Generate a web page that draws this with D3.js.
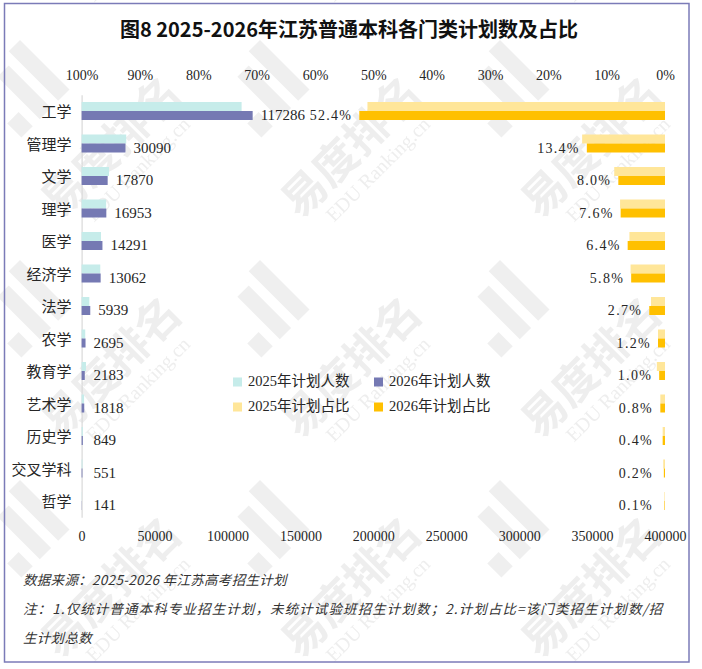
<!DOCTYPE html>
<html>
<head>
<meta charset="utf-8">
<script src="https://cdn.jsdelivr.net/npm/d3@7"></script>
<style>
  html, body { margin: 0; padding: 0; background: #fff; }
  svg text { font-family: "Liberation Serif", "Noto Sans CJK SC", serif; fill: #262626; }
  .cjk { font-family: "Noto Sans CJK SC", sans-serif; }
</style>
</head>
<body>
<div id="chart"></div>
<script>
// 各门类
const categories = ["工学", "管理学", "文学", "理学", "医学", "经济学", "法学", "农学", "教育学", "艺术学", "历史学", "交叉学科", "哲学"];
// 计划人数
const plan2025 = [109700, 30600, 18800, 16800, 13300, 12800, 5300, 2500, 3000, 1700, 850, 600, 150];
const plan2026 = [117286, 30090, 17870, 16953, 14291, 13062, 5939, 2695, 2183, 1818, 849, 551, 141];
// 计划占比 (%)
const share2025 = [51.0, 14.2, 8.7, 7.7, 6.1, 5.9, 2.4, 1.2, 1.4, 0.8, 0.4, 0.3, 0.1];
const share2026 = [52.4, 13.4, 8.0, 7.6, 6.4, 5.8, 2.7, 1.2, 1.0, 0.8, 0.4, 0.2, 0.1];
// 刻度
const countTicks = [0, 50000, 100000, 150000, 200000, 250000, 300000, 350000, 400000];
const shareTicks = [100, 90, 80, 70, 60, 50, 40, 30, 20, 10, 0];
const legendItems = ["2025年计划人数", "2026年计划人数", "2025年计划占比", "2026年计划占比"];

const W = 702, H = 669;
const colors = { c25: "#c6ecea", c26: "#7579b3", s25: "#ffe699", s26: "#ffc000" };

const svg = d3.select("#chart")
    .append("svg")
    .attr("width", W)
    .attr("height", H);

// 水印
const defs = svg.append("defs");
const pat = defs.append("pattern")
    .attr("id", "wm")
    .attr("patternUnits", "userSpaceOnUse")
    .attr("width", 240)
    .attr("height", 220)
    .attr("patternTransform", "translate(-10,20)");
const logo = pat.append("g").attr("transform", "translate(30,20) rotate(45)");
logo.append("rect").attr("x", 0).attr("y", 0).attr("width", 70).attr("height", 16).attr("fill", "#efefef");
logo.append("rect").attr("x", 10).attr("y", 26).attr("width", 60).attr("height", 16).attr("fill", "#efefef");
logo.append("rect").attr("x", 50).attr("y", 52).attr("width", 20).attr("height", 16).attr("fill", "#efefef");
const wg = pat.append("g").attr("transform", "translate(70,200) rotate(-45)");
wg.append("text").attr("class", "cjk")
    .attr("x", 0).attr("y", 0)
    .attr("font-size", 44).attr("font-weight", "bold")
    .style("fill", "#eeeeee")
    .text("易度排名");
wg.append("text")
    .attr("x", 22).attr("y", 26)
    .attr("font-size", 20)
    .style("fill", "#eeeeee")
    .text("EDU Ranking.cn");
svg.append("rect").attr("width", W).attr("height", H).attr("fill", "url(#wm)");

// 外框
svg.append("rect")
    .attr("x", 4.5).attr("y", 3.5)
    .attr("width", 684.5).attr("height", 658.5)
    .attr("fill", "none")
    .attr("stroke", "#7b7bb8")
    .attr("stroke-width", 1.5);

// 标题
svg.append("text").attr("class", "cjk")
    .attr("x", 349).attr("y", 37)
    .attr("text-anchor", "middle")
    .attr("font-size", 20)
    .attr("font-weight", "bold")
    .style("fill", "#111")
    .text("图8  2025-2026年江苏普通本科各门类计划数及占比");

const x0 = 81.6, x1 = 665;
const xCount = d3.scaleLinear().domain([0, 400000]).range([x0, x1]);
const xShare = d3.scaleLinear().domain([0, 100]).range([x1, x0]);
const y = d3.scaleBand().domain(categories).range([94.75, 517.25]).padding(0);
const sub = d3.scaleBand().domain(["a", "b"]).range([0, 18]).padding(0);
const rowTop = c => y(c) + y.bandwidth() / 2 - 9;

const rows = categories.map((c, i) => ({
    cat: c, p25: plan2025[i], p26: plan2026[i], s25: share2025[i], s26: share2026[i]
}));

// 顶部百分比轴
const topAxis = svg.append("g")
    .attr("transform", "translate(0,80)")
    .call(d3.axisTop(xShare).tickValues(shareTicks).tickFormat(d => d + "%").tickSize(0).tickPadding(0));
topAxis.select(".domain").remove();
topAxis.selectAll("text")
    .attr("font-family", "Liberation Serif")
    .attr("font-size", 14)
    .style("fill", "#262626");

// 底部人数轴
const bottomAxis = svg.append("g")
    .attr("transform", "translate(0,531)")
    .call(d3.axisBottom(xCount).tickValues(countTicks).tickFormat(d3.format("d")).tickSize(0).tickPadding(0));
bottomAxis.select(".domain").remove();
bottomAxis.selectAll("text")
    .attr("font-family", "Liberation Serif")
    .attr("font-size", 14)
    .style("fill", "#262626");

// 类别轴
const leftAxis = svg.append("g")
    .attr("transform", `translate(${x0},0)`)
    .call(d3.axisLeft(y).tickSize(0).tickPadding(10));
leftAxis.select(".domain").attr("stroke", "#d9d9d9").attr("stroke-width", 1.2);
leftAxis.selectAll("text")
    .attr("class", "cjk")
    .attr("font-size", 15)
    .attr("dy", "0.4em")
    .style("fill", "#262626");

// 人数条形
const gCount = svg.append("g");
gCount.selectAll("rect.c25").data(rows).enter().append("rect")
    .attr("x", x0)
    .attr("y", d => rowTop(d.cat) + sub("a"))
    .attr("width", d => xCount(d.p25) - x0)
    .attr("height", sub.bandwidth())
    .attr("fill", colors.c25);
gCount.selectAll("rect.c26").data(rows).enter().append("rect")
    .attr("x", x0)
    .attr("y", d => rowTop(d.cat) + sub("b"))
    .attr("width", d => xCount(d.p26) - x0)
    .attr("height", sub.bandwidth())
    .attr("fill", colors.c26);

// 占比条形
const gShare = svg.append("g");
gShare.selectAll("rect.s25").data(rows).enter().append("rect")
    .attr("x", d => xShare(d.s25))
    .attr("y", d => rowTop(d.cat) + sub("a"))
    .attr("width", d => x1 - xShare(d.s25))
    .attr("height", sub.bandwidth())
    .attr("fill", colors.s25);
gShare.selectAll("rect.s26").data(rows).enter().append("rect")
    .attr("x", d => xShare(d.s26))
    .attr("y", d => rowTop(d.cat) + sub("b"))
    .attr("width", d => x1 - xShare(d.s26))
    .attr("height", sub.bandwidth())
    .attr("fill", colors.s26);

// 数据标签
svg.append("g").selectAll("text").data(rows).enter().append("text")
    .attr("x", d => Math.max(xCount(d.p26) + 8, x0 + 12))
    .attr("y", d => rowTop(d.cat) + sub("b") + sub.bandwidth() / 2 + 1.5)
    .attr("dominant-baseline", "middle")
    .attr("font-size", 15)
    .text(d => d.p26);

svg.append("g").selectAll("text").data(rows).enter().append("text")
    .attr("x", d => Math.min(xShare(d.s26) - 7, 653))
    .attr("y", d => rowTop(d.cat) + sub("b") + sub.bandwidth() / 2 + 1.5)
    .attr("dominant-baseline", "middle")
    .attr("text-anchor", "end")
    .attr("font-size", 14)
    .attr("letter-spacing", 1.3)
    .text(d => d.s26.toFixed(1) + "%");

// 图例
const legendPos = [[233, 382], [374, 382], [233, 407], [374, 407]];
const legendColors = [colors.c25, colors.c26, colors.s25, colors.s26];
const lg = svg.append("g").selectAll("g").data(legendItems).enter().append("g")
    .attr("transform", (d, i) => `translate(${legendPos[i][0]},${legendPos[i][1]})`);
lg.append("rect")
    .attr("x", 0).attr("y", -4.5)
    .attr("width", 9).attr("height", 9)
    .attr("fill", (d, i) => legendColors[i]);
lg.append("text")
    .attr("x", 15).attr("y", 1)
    .attr("dominant-baseline", "middle")
    .attr("font-size", 14.5)
    .text(d => d);

// 注释
const notes = [
    "数据来源：2025-2026 年江苏高考招生计划",
    "注：1.仅统计普通本科专业招生计划，未统计试验班招生计划数；2.计划占比=该门类招生计划数/招",
    "生计划总数"
];
svg.append("g").selectAll("text").data(notes).enter().append("text")
    .attr("class", "cjk")
    .attr("x", 23)
    .attr("y", (d, i) => 585 + i * 29)
    .attr("font-size", 13.5)
    .attr("font-style", "italic")
    .attr("letter-spacing", (d, i) => i === 1 ? 1.1 : 0.3)
    .style("fill", "#333")
    .text(d => d);
</script>
</body>
</html>
